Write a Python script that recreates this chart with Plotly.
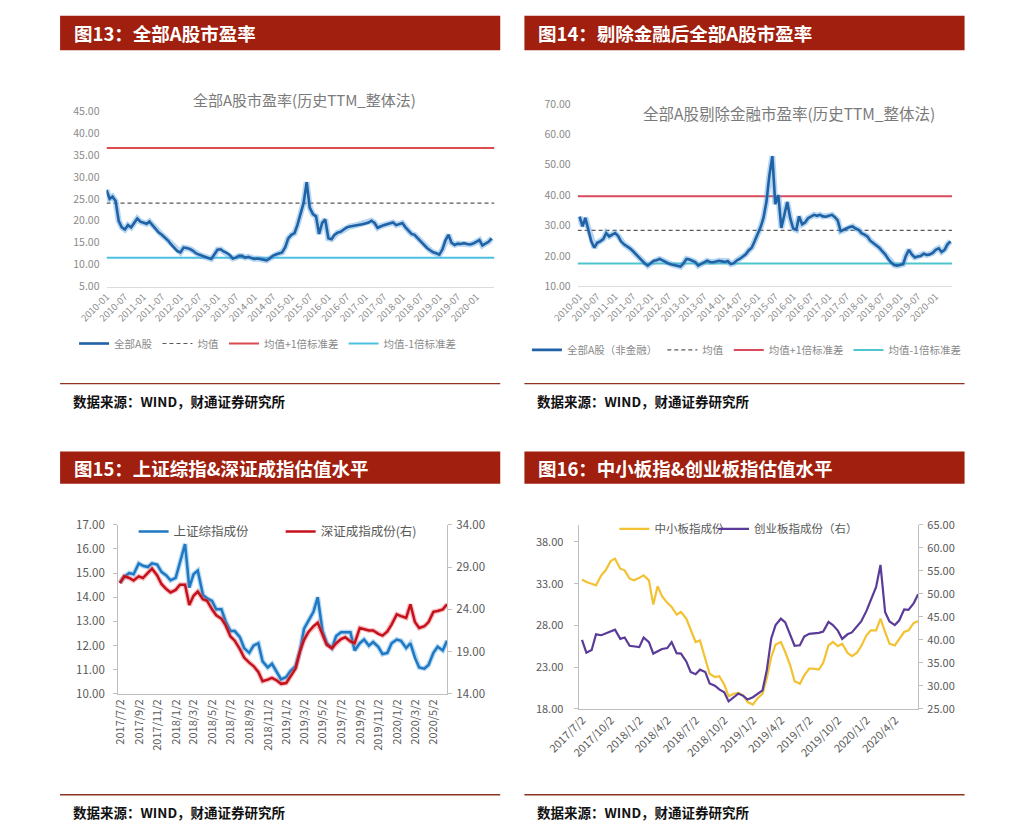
import plotly.graph_objects as go
import pandas as pd

W, H = 1011, 840


def fx(x):
    return x / W


def fy(y):
    return 1 - y / H


FONT = "Noto Sans CJK SC"

# ---------------- data ----------------
months = pd.date_range("2010-01-01", periods=126, freq="MS")
pe_all_a = [
    27.0, 25.0, 25.5, 24.5, 20.0, 18.5, 18.0, 19.0, 18.5, 19.5, 20.5, 19.8,
    19.5, 19.3, 19.8, 19.0, 18.0, 17.3, 16.8, 16.2, 15.5, 14.6, 13.8, 13.1,
    12.8, 13.9, 13.8, 13.6, 13.2, 12.6, 12.3, 12.0, 11.8, 11.5, 11.3, 12.2,
    13.4, 13.5, 13.0, 12.7, 12.2, 11.4, 11.6, 12.0, 12.0, 11.6, 11.8, 11.5,
    11.3, 11.4, 11.3, 11.1, 11.0, 11.4, 12.0, 12.3, 12.6, 12.8, 14.0, 16.0,
    16.8, 17.2, 19.0, 21.5, 24.0, 28.8, 23.0, 21.5, 21.0, 17.0, 19.5, 20.3,
    16.0, 15.8, 16.8, 17.3, 17.5, 18.0, 18.5, 18.7, 18.8, 19.0, 19.0, 19.2,
    19.4, 19.6, 20.0, 19.5, 18.4, 18.8, 19.0, 19.2, 19.4, 19.6, 19.0, 19.2,
    19.5, 18.5, 17.8, 17.0, 16.8, 16.0, 15.3, 14.5, 13.8, 13.3, 12.8, 12.6,
    12.3, 13.5, 15.5, 16.8, 15.0, 14.5, 14.8, 14.7, 14.9, 14.7, 14.6, 14.8,
    15.2, 15.6, 14.4, 14.8, 15.2, 16.0,
]
all_a_mean, all_a_plus, all_a_minus = 24.0, 36.6, 11.6

pe_ex_fin = [
    32.9, 29.7, 32.5, 29.0, 24.8, 22.7, 24.3, 24.8, 25.5, 27.5, 26.4, 27.0,
    27.5, 26.5, 24.8, 23.8, 23.2, 22.5, 21.6, 20.5, 19.6, 18.4, 17.5, 16.8,
    17.5, 18.4, 18.6, 19.0, 18.5, 17.9, 17.5, 17.2, 17.0, 16.8, 16.5, 17.5,
    19.0, 18.8, 18.4, 18.0, 16.8, 17.5, 17.9, 18.4, 18.0, 17.9, 18.2, 18.4,
    18.2, 18.0, 18.3, 17.3, 17.6, 18.5, 19.0, 19.8, 20.5, 21.8, 22.7, 24.8,
    27.0, 29.5, 32.4, 37.7, 46.4, 52.8, 37.0, 40.0, 29.2, 33.5, 37.7, 32.4,
    29.0, 28.6, 33.0, 30.4, 31.0, 32.4, 33.0, 33.5, 33.2, 33.5, 33.0, 32.9,
    33.2, 33.5, 32.8, 31.7, 28.1, 28.6, 29.2, 29.5, 29.7, 29.0, 28.6, 27.5,
    27.0, 26.3, 25.0, 24.3, 23.5, 22.7, 21.6, 20.5, 19.0, 17.8, 17.0, 16.8,
    17.0, 17.3, 20.0, 22.0, 20.5, 19.5, 19.8, 20.0, 20.7, 20.3, 20.5, 21.0,
    22.0, 22.5, 21.3, 22.0, 23.8, 24.8,
]
ex_mean, ex_plus, ex_minus = 28.4, 39.6, 17.5

half_months = pd.date_range("2017-07-01", periods=72, freq="SMS")
sh_comp = [
    14.6, 14.85, 15.0, 14.95, 15.4, 15.3, 15.25, 15.4, 15.35, 15.05, 14.9, 14.7,
    14.8, 15.4, 16.2, 14.4, 14.95, 15.1, 14.1, 13.95, 13.85, 13.5, 13.5, 13.0,
    12.6, 12.6, 12.35, 11.9, 11.7, 12.0, 12.1, 11.35, 11.1, 11.25, 10.9, 10.6,
    10.7, 10.95, 11.15, 11.75, 12.7, 13.0, 13.4, 14.0, 12.6, 12.1, 11.9, 12.4,
    12.55, 12.55, 12.55, 11.8, 12.1, 12.25, 12.0, 12.15, 11.95, 11.65, 11.7, 12.1,
    12.25, 12.2, 11.9, 12.1, 11.5, 11.1, 11.05, 11.2, 11.7, 11.95, 11.8, 12.2,
]
sz_comp = [
    27.1, 27.9, 27.7, 27.4, 27.9, 27.7, 28.3, 28.8, 28.0, 27.0, 26.4, 26.0,
    26.3, 26.9, 26.9, 24.5, 25.6, 26.1, 25.2, 25.0, 24.0, 23.3, 22.9, 22.1,
    20.8, 20.3, 19.3, 18.3, 17.7, 17.3, 16.6, 15.5, 15.7, 15.9, 15.6, 15.2,
    15.3, 16.1, 17.0, 19.0, 20.4, 21.3, 22.0, 22.4, 20.9, 19.8, 19.4, 20.0,
    20.5, 20.7, 20.2, 20.0, 21.8, 21.7, 21.5, 21.5, 21.1, 20.9, 21.4, 22.2,
    23.4, 23.2, 23.0, 24.6, 22.5, 21.8, 22.0, 22.5, 23.7, 23.8, 24.0, 24.6,
]
sme_comp = [
    33.5, 33.2, 33.0, 32.8, 34.0, 34.6, 35.7, 36.0, 34.8, 34.6, 33.6, 33.4,
    33.7, 34.0, 33.4, 30.5, 32.7, 31.5, 30.7, 30.2, 29.3, 29.6, 28.8, 27.5,
    26.0, 26.2, 24.0, 22.2, 21.8, 21.9, 20.9, 19.5, 19.8, 19.9, 19.6, 18.8,
    18.5, 19.2, 19.8, 21.7, 24.2, 25.7, 26.0, 24.8, 23.2, 21.3, 21.0, 22.0,
    22.8, 22.8, 22.7, 23.5, 25.6, 26.0, 25.5, 25.8, 24.7, 24.3, 24.7, 25.5,
    26.8, 27.4, 27.4, 28.8, 27.2, 25.8, 25.6, 26.4, 27.2, 27.4, 28.3, 28.5,
]
chinext_comp = [
    40.0, 37.2, 37.8, 41.2, 41.0, 41.4, 41.7, 42.2, 40.2, 40.5, 38.7, 38.6,
    38.4, 40.5, 39.5, 37.0, 37.5, 38.0, 38.2, 39.5, 37.1, 37.0, 35.3, 33.0,
    32.5, 33.5, 33.0, 30.5, 30.0, 29.2, 28.6, 26.6, 27.5, 28.3, 27.8, 27.0,
    27.5, 28.1, 29.0, 33.5, 40.3, 43.2, 44.6, 43.8, 41.0, 38.7, 38.8, 40.7,
    41.3, 41.4, 41.5, 41.8, 43.9, 43.2, 42.0, 40.2, 41.2, 41.6, 42.8, 44.0,
    46.3, 48.5, 51.5, 56.3, 46.0, 44.0, 43.2, 44.2, 46.6, 46.5, 48.0, 49.9,
]

p3_ticklabels = ["2017/7/2", "2017/9/2", "2017/11/2", "2018/1/2", "2018/3/2",
                 "2018/5/2", "2018/7/2", "2018/9/2", "2018/11/2", "2019/1/2",
                 "2019/3/2", "2019/5/2", "2019/7/2", "2019/9/2", "2019/11/2",
                 "2020/1/2", "2020/3/2", "2020/5/2"]
p4_ticklabels = ["2017/7/2", "2017/10/2", "2018/1/2", "2018/4/2", "2018/7/2",
                 "2018/10/2", "2019/1/2", "2019/4/2", "2019/7/2", "2019/10/2",
                 "2020/1/2", "2020/4/2"]
p3_tickvals = pd.to_datetime(p3_ticklabels, format="%Y/%m/%d")
p4_tickvals = pd.to_datetime(p4_ticklabels, format="%Y/%m/%d")

p1_xrange = ["2010-01-01", "2020-06-28"]
p2_xrange = ["2009-12-12", "2020-06-16"]
p3_xrange = ["2017-06-25", "2020-06-15"]
p4_xrange = ["2017-06-20", "2020-06-15"]

# ---------------- figure ----------------
fig = go.Figure()

# Panel 1
fig.add_trace(go.Scatter(x=p1_xrange, y=[all_a_mean] * 2, mode="lines", name="均值",
                         line=dict(color="#595959", width=1.2, dash="4px,3px"),
                         xaxis="x", yaxis="y", legend="legend", legendrank=2, hoverinfo="skip"))
fig.add_trace(go.Scatter(x=p1_xrange, y=[all_a_plus] * 2, mode="lines", name="均值+1倍标准差",
                         line=dict(color="#DD4A50", width=2),
                         xaxis="x", yaxis="y", legend="legend", legendrank=3, hoverinfo="skip"))
fig.add_trace(go.Scatter(x=p1_xrange, y=[all_a_minus] * 2, mode="lines", name="均值-1倍标准差",
                         line=dict(color="#4CC0E0", width=2),
                         xaxis="x", yaxis="y", legend="legend", legendrank=4, hoverinfo="skip"))
fig.add_trace(go.Scatter(x=months, y=pe_all_a, mode="lines", showlegend=False,
                         line=dict(color="rgba(95,165,225,0.45)", width=6),
                         xaxis="x", yaxis="y", hoverinfo="skip"))
fig.add_trace(go.Scatter(x=months, y=pe_all_a, mode="lines", name="全部A股",
                         line=dict(color="#1F62A5", width=2.6),
                         xaxis="x", yaxis="y", legend="legend", legendrank=1))

# Panel 2
fig.add_trace(go.Scatter(x=p2_xrange, y=[ex_mean] * 2, mode="lines", name="均值",
                         line=dict(color="#595959", width=1.2, dash="4px,3px"),
                         xaxis="x2", yaxis="y2", legend="legend2", legendrank=2, hoverinfo="skip"))
fig.add_trace(go.Scatter(x=p2_xrange, y=[ex_plus] * 2, mode="lines", name="均值+1倍标准差",
                         line=dict(color="#D94A5E", width=2),
                         xaxis="x2", yaxis="y2", legend="legend2", legendrank=3, hoverinfo="skip"))
fig.add_trace(go.Scatter(x=p2_xrange, y=[ex_minus] * 2, mode="lines", name="均值-1倍标准差",
                         line=dict(color="#4FC4CC", width=2),
                         xaxis="x2", yaxis="y2", legend="legend2", legendrank=4, hoverinfo="skip"))
fig.add_trace(go.Scatter(x=months, y=pe_ex_fin, mode="lines", showlegend=False,
                         line=dict(color="rgba(95,165,225,0.45)", width=6),
                         xaxis="x2", yaxis="y2", hoverinfo="skip"))
fig.add_trace(go.Scatter(x=months, y=pe_ex_fin, mode="lines", name="全部A股（非金融）",
                         line=dict(color="#1F62A5", width=2.6),
                         xaxis="x2", yaxis="y2", legend="legend2", legendrank=1))

# Panel 3
fig.add_trace(go.Scatter(x=half_months, y=sh_comp, mode="lines", showlegend=False,
                         line=dict(color="rgba(90,170,230,0.45)", width=5),
                         xaxis="x3", yaxis="y3", hoverinfo="skip"))
fig.add_trace(go.Scatter(x=half_months, y=sh_comp, mode="lines", name="上证综指成份",
                         line=dict(color="#1E78C2", width=2.5),
                         xaxis="x3", yaxis="y3", legend="legend3"))
fig.add_trace(go.Scatter(x=half_months, y=sz_comp, mode="lines", showlegend=False,
                         line=dict(color="rgba(235,90,100,0.40)", width=5),
                         xaxis="x3", yaxis="y5", hoverinfo="skip"))
fig.add_trace(go.Scatter(x=half_months, y=sz_comp, mode="lines", name="深证成指成份(右)",
                         line=dict(color="#C3121C", width=2.5),
                         xaxis="x3", yaxis="y5", legend="legend4"))

# Panel 4
fig.add_trace(go.Scatter(x=half_months, y=sme_comp, mode="lines", name="中小板指成份",
                         line=dict(color="#F3C232", width=2.2),
                         xaxis="x4", yaxis="y4", legend="legend5"))
fig.add_trace(go.Scatter(x=half_months, y=chinext_comp, mode="lines", name="创业板指成份（右）",
                         line=dict(color="#5B3B98", width=2.2),
                         xaxis="x4", yaxis="y6", legend="legend6"))

GRAY_L = "#8a8a8a"
GRAY_D = "#595959"

common_y12 = dict(showgrid=False, zeroline=False, showline=False, tickformat=".2f",
                  tickfont=dict(family=FONT, size=10.5, color=GRAY_L), ticklabelstandoff=6)
common_x12 = dict(type="date", showgrid=False, zeroline=False, showline=True, linecolor="#dcdcdc",
                  linewidth=1, tickformat="%Y-%m", dtick="M6", tick0="2010-01-01",
                  tickangle=-45, tickfont=dict(family=FONT, size=9.5, color=GRAY_L), ticks="")


def single_legend(x, y, size, color):
    return dict(x=fx(x), y=fy(y), xanchor="left", yanchor="middle", orientation="h",
                bgcolor="rgba(0,0,0,0)", font=dict(family=FONT, size=size, color=color))


fig.update_layout(
    width=W, height=H, autosize=False,
    margin=dict(l=0, r=0, t=0, b=0),
    paper_bgcolor="white", plot_bgcolor="rgba(0,0,0,0)",
    font=dict(family=FONT),
    hovermode=False,
    xaxis=dict(domain=[fx(76), fx(477)], range=p1_xrange, anchor="y", **common_x12),
    yaxis=dict(domain=[fy(283), fy(104)], range=[5, 45], dtick=5, tick0=5, anchor="x", **common_y12),
    xaxis2=dict(domain=[fx(563), fx(950)], range=p2_xrange, anchor="y2", **common_x12),
    yaxis2=dict(domain=[fy(282.7), fy(96.7)], range=[10, 70], dtick=10, tick0=10, anchor="x2", **common_y12),
    xaxis3=dict(domain=[fx(88), fx(428)], range=p3_xrange, anchor="y3", type="date",
                tickvals=p3_tickvals, ticktext=p3_ticklabels, tickangle=-90,
                showgrid=False, zeroline=False, showline=True, linecolor="#bfbfbf",
                ticks="", tickfont=dict(family=FONT, size=11, color=GRAY_D)),
    yaxis3=dict(domain=[fy(698.3), fy(525.7)], range=[10, 17], dtick=1, tick0=10, anchor="x3",
                tickformat=".2f", showgrid=False, zeroline=False, showline=True, linecolor="#bfbfbf",
                ticks="outside", ticklen=4, tickcolor="#bfbfbf",
                tickfont=dict(family=FONT, size=11.5, color=GRAY_D), ticklabelstandoff=6),
    yaxis5=dict(range=[14, 34], dtick=5, tick0=14, anchor="x3", overlaying="y3", side="right",
                tickformat=".2f", showgrid=False, zeroline=False, showline=True, linecolor="#bfbfbf",
                ticks="outside", ticklen=4, tickcolor="#bfbfbf",
                tickfont=dict(family=FONT, size=11.5, color=GRAY_D), ticklabelstandoff=2),
    xaxis4=dict(domain=[fx(564), fx(915)], range=p4_xrange, anchor="y4", type="date",
                tickvals=p4_tickvals, ticktext=p4_ticklabels, tickangle=-45,
                showgrid=False, zeroline=False, showline=True, linecolor="#bfbfbf",
                ticks="", tickfont=dict(family=FONT, size=11, color=GRAY_D)),
    yaxis4=dict(domain=[fy(713.3), fy(526)], range=[18, 40.04], dtick=5, tick0=18, anchor="x4",
                tickformat=".2f", showgrid=False, zeroline=False, showline=True, linecolor="#bfbfbf",
                ticks="outside", ticklen=4, tickcolor="#bfbfbf",
                tickfont=dict(family=FONT, size=11, color=GRAY_D), ticklabelstandoff=8),
    yaxis6=dict(range=[25, 65], dtick=5, tick0=25, anchor="x4", overlaying="y4", side="right",
                tickformat=".2f", showgrid=False, zeroline=False, showline=True, linecolor="#bfbfbf",
                ticks="outside", ticklen=4, tickcolor="#bfbfbf",
                tickfont=dict(family=FONT, size=11, color=GRAY_D), ticklabelstandoff=2),
    legend=dict(x=fx(243), y=fy(341), xanchor="center", yanchor="middle", orientation="h",
                bgcolor="rgba(0,0,0,0)", font=dict(family=FONT, size=10.5, color=GRAY_L),
                traceorder="normal"),
    legend2=dict(x=fx(738), y=fy(347.5), xanchor="center", yanchor="middle", orientation="h",
                 bgcolor="rgba(0,0,0,0)", font=dict(family=FONT, size=10.5, color=GRAY_L),
                 traceorder="normal"),
    legend3=single_legend(104, 533, 12.5, GRAY_D),
    legend4=single_legend(256, 533, 12.5, GRAY_D),
    legend5=single_legend(601, 530, 11.5, GRAY_D),
    legend6=single_legend(704, 530, 11.5, GRAY_D),
)

HEADER_RED = "#A11F0E"
RULE_RED = "#8E3322"
shapes = []
annotations = []
panels = [
    (28, 483, 7, 42, "图13：全部A股市盈率", 382, 400),
    (508, 963, 7, 42, "图14：剔除金融后全部A股市盈率", 382, 400),
    (28, 483, 451, 484, "图15：上证综指&深证成指估值水平", 801, 819),
    (508, 963, 451, 484, "图16：中小板指&创业板指估值水平", 801, 819),
]
for x0, x1, y0, y1, head, rule_y, src_y in panels:
    shapes.append(dict(type="rect", xref="paper", yref="paper", x0=fx(x0), x1=fx(x1),
                       y0=fy(y1), y1=fy(y0), fillcolor=HEADER_RED, line=dict(width=0), layer="below"))
    shapes.append(dict(type="line", xref="paper", yref="paper", x0=fx(x0), x1=fx(x1),
                       y0=fy(rule_y), y1=fy(rule_y), line=dict(color=RULE_RED, width=1.3)))
    annotations.append(dict(xref="paper", yref="paper", x=fx(x0 + 12), y=fy((y0 + y1) / 2),
                            xanchor="left", yanchor="middle", showarrow=False,
                            text="<b>" + head + "</b>",
                            font=dict(family=FONT, size=18.5, color="white")))
    annotations.append(dict(xref="paper", yref="paper", x=fx(x0 + 11), y=fy(src_y),
                            xanchor="left", yanchor="middle", showarrow=False,
                            text="<b>数据来源：WIND，财通证券研究所</b>",
                            font=dict(family=FONT, size=13.5, color="#111111")))

annotations.append(dict(xref="paper", yref="paper", x=fx(281), y=fy(92), xanchor="center",
                        yanchor="middle", showarrow=False, text="全部A股市盈率(历史TTM_整体法)",
                        font=dict(family=FONT, size=15, color="#7a7a7a")))
annotations.append(dict(xref="paper", yref="paper", x=fx(782), y=fy(106), xanchor="center",
                        yanchor="middle", showarrow=False, text="全部A股剔除金融市盈率(历史TTM_整体法)",
                        font=dict(family=FONT, size=15.5, color="#7a7a7a")))

fig.update_layout(shapes=shapes, annotations=annotations)

fig.write_html("out.html")
